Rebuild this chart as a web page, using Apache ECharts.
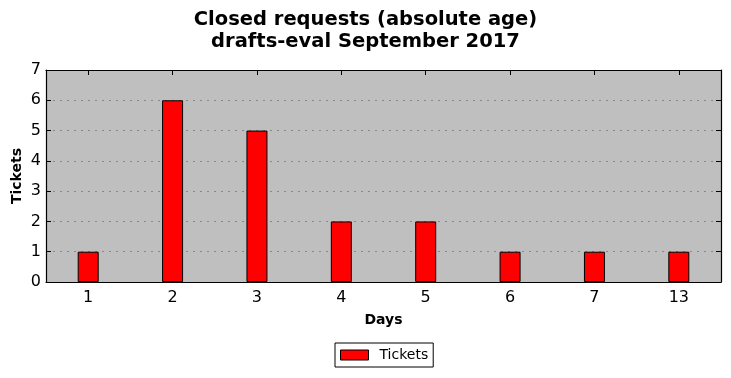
<!DOCTYPE html>
<html><head><meta charset="utf-8">
<script src="https://cdn.jsdelivr.net/npm/echarts@6/dist/echarts.min.js"></script>
<style>html,body{margin:0;padding:0;background:#fff}#c{width:731px;height:378px}</style>
</head><body><div id="c"></div>
<script>
const categories = ['1','2','3','4','5','6','7','13'];
const tickets = [1,6,5,2,2,1,1,1];
const yTicks = [0,1,2,3,4,5,6,7];
const titleText = 'Closed requests (absolute age)\ndrafts-eval September 2017';
const seriesName = 'Tickets';

const chart = echarts.init(document.getElementById('c'));
const F = 'DejaVu Sans';
const tickStyle = {show:true, inside:true, length:5, lineStyle:{color:'#000', width:1}};
const lineStyle = {show:true, onZero:false, lineStyle:{color:'#000', width:1.2}};
chart.setOption({
  animation:false,
  textStyle:{fontFamily:F},
  title:{text:titleText, left:'center', top:4,
    textStyle:{fontFamily:F, fontSize:19.5, fontWeight:'bold', color:'#000', lineHeight:22}},
  legend:{data:[seriesName], bottom:11, left:335, itemWidth:28, itemHeight:10, icon:'rect',
    borderColor:'#000', borderWidth:1, borderRadius:0, padding:[5,5,5,5], itemGap:8,
    textStyle:{fontFamily:F, fontSize:14, color:'#000', padding:[0,0,0,6]},
    itemStyle:{borderColor:'#000', borderWidth:1}},
  grid:{left:46, top:70, width:675, height:212, show:true, backgroundColor:'#bfbfbf',
    borderWidth:0, outerBoundsMode:'none', containLabel:false},
  xAxis:[
    {type:'category', data:categories, position:'bottom', name:'Days', nameLocation:'middle', nameGap:31,
     nameTextStyle:{fontFamily:F, fontSize:14, fontWeight:'bold', color:'#000'},
     axisLine:lineStyle, axisTick:Object.assign({alignWithLabel:true}, tickStyle),
     axisLabel:{fontFamily:F, fontSize:16, color:'#000', margin:8}},
    {type:'category', data:categories, position:'top',
     axisLine:lineStyle, axisTick:Object.assign({alignWithLabel:true}, tickStyle),
     axisLabel:{show:false}}
  ],
  yAxis:[
    {type:'value', min:0, max:7, interval:1, name:'Tickets', nameLocation:'middle', nameGap:22,
     nameMoveOverlap:false,
     nameTextStyle:{fontFamily:F, fontSize:14, fontWeight:'bold', color:'#000'},
     axisLine:lineStyle, axisTick:tickStyle,
     axisLabel:{fontFamily:F, fontSize:16, color:'#000', margin:5, formatter:v=>yTicks.includes(v)?String(v):''},
     splitLine:{show:true, lineStyle:{color:'#888', type:[2,5], width:1}}},
    {type:'value', min:0, max:7, interval:1, position:'right',
     axisLine:lineStyle, axisTick:tickStyle, axisLabel:{show:false}, splitLine:{show:false}}
  ],
  series:[{name:seriesName, type:'bar', data:tickets, barWidth:21,
    itemStyle:{color:'#ff0000', borderColor:'#000', borderWidth:1}}]
});
</script></body></html>
